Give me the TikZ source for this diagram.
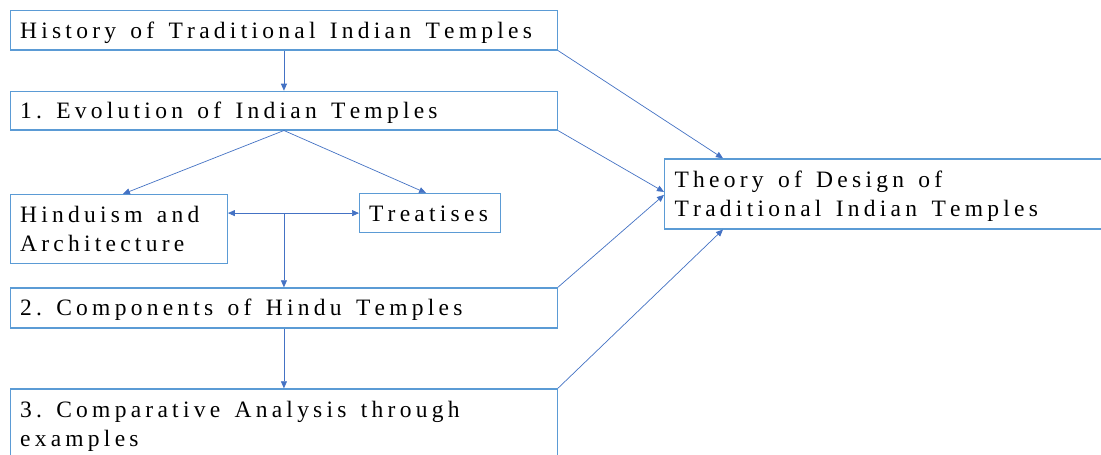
\documentclass[tikz,border=0pt]{standalone}
\usepackage{fontspec}
\setmainfont{Liberation Serif}
\newfontfamily\diafont{Liberation Serif}
\usetikzlibrary{arrows.meta}
\definecolor{boxblue}{HTML}{5B9BD5}
\definecolor{linkblue}{HTML}{4472C4}
\ExplSyntaxOn
\NewDocumentCommand\tracked{m}
  {
    \str_map_inline:nn {#1}
      { \tl_if_blank:nTF {##1} { \hspace{10.1pt} } { ##1 \kern 4.25pt } }
  }
\ExplSyntaxOff
\tikzset{
  txt/.style={font=\diafont\fontsize{23.5}{29}\selectfont},
  box/.style={draw=boxblue, line width=1.2pt, anchor=north west, inner xsep=9.5pt,
    inner ysep=0pt, align=left, txt},
  one/.style={text height=21pt, text depth=5pt},
  two/.style={text height=21pt, text depth=34pt},
  link/.style={draw=linkblue, line width=0.7pt, -{Triangle[length=7pt,width=6pt]}},
  dlink/.style={draw=linkblue, line width=0.7pt, {Triangle[length=7pt,width=6pt]}-{Triangle[length=7pt,width=6pt]}},
}
\begin{document}
\begin{tikzpicture}[x=1pt,y=-1pt]
\useasboundingbox (0,0) rectangle (1101,455);
\fill[white] (0,0) rectangle (1101,455);
\clip (0,0) rectangle (1101,455);

\node[box,one,minimum width=546.7pt,text width=527.7pt,minimum height=39.3pt] (H) at (10,10) {\tracked{History of Traditional Indian Temples}};
\node[box,one,minimum width=546.7pt,text width=527.7pt,minimum height=38.6pt] (E) at (10,90.7) {\tracked{1. Evolution of Indian Temples}};
\node[box,two,minimum width=216.7pt,text width=197.7pt,minimum height=68.7pt] (Hin) at (10,194) {\tracked{Hinduism and}\\\tracked{Architecture}};
\node[box,one,minimum width=141pt,text width=122pt,minimum height=39pt] (Tre) at (359,193) {\tracked{Treatises}};
\node[box,one,minimum width=546.7pt,text width=527.7pt,minimum height=40pt] (C) at (10,287.3) {\tracked{2. Components of Hindu Temples}};
\node[box,two,minimum width=546.7pt,text width=527.7pt,minimum height=70pt] (CA) at (10,388.3) {\tracked{3. Comparative Analysis through}\\\tracked{examples}};
\node[box,two,inner xsep=10pt,minimum width=500pt,text width=480pt,minimum height=70pt] (Th) at (664,158.3) {\tracked{Theory of Design of}\\\tracked{Traditional Indian Temples}};

\draw[link] (H) -- (E);
\draw[link] (E.south) -- ([xshift=4pt]Hin.north);
\draw[link] (E.south) -- ([xshift=-4pt]Tre.north);
\draw[dlink] (Hin.east |- Tre.west) -- (Tre.west);
\coordinate (J) at (E.south |- Tre.west);
\draw[link] (J) -- (C.north);
\draw[link] (C) -- (CA);
\draw[link] (H.south east) -- ([xshift=59pt]Th.north west);
\draw[link] (E.south east) -- ([yshift=2pt]Th.west);
\draw[link] (C.north east) -- ([yshift=-1pt]Th.west);
\draw[link] (CA.north east) -- ([xshift=59pt]Th.south west);
\end{tikzpicture}
\end{document}
